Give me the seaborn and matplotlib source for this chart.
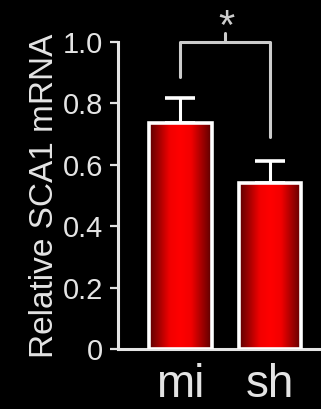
import numpy as np
import pandas as pd
import matplotlib
matplotlib.use("Agg")
import matplotlib.pyplot as plt
from matplotlib.colors import LinearSegmentedColormap
import seaborn as sns

# ── Datos ──
groups = ["mi", "sh"]
means = [0.735, 0.54]
sems = [0.083, 0.072]
yticks = [0, 0.2, 0.4, 0.6, 0.8, 1.0]
ytick_labels = ["0", "0.2", "0.4", "0.6", "0.8", "1.0"]
sig_label = "*"
bracket_top = 1.0
bracket_legs = [0.885, 0.69]

sns.set_theme(style="ticks")
plt.rcParams['font.family'] = ['Liberation Sans', 'DejaVu Sans']
fg = '#e4e4e4'
plt.rcParams.update({'text.color': fg, 'axes.labelcolor': fg,
                     'xtick.color': fg, 'ytick.color': fg,
                     'axes.edgecolor': fg})

df = pd.DataFrame({"group": groups, "value": means})

fig = plt.figure(figsize=(3.21, 4.09), dpi=100, facecolor='black')
ax = fig.add_axes([0.368, 0.1467, 0.632, 0.7506])
ax.set_facecolor('black')

sns.barplot(data=df, x="group", y="value", ax=ax, width=0.7, color='red',
            edgecolor='white', linewidth=2.6, errorbar=None, zorder=3)

# degradado horizontal dentro de cada barra
cmap = LinearSegmentedColormap.from_list(
    "rojo", [(0, "#5a0000"), (0.33, "#f20000"), (0.5, "#ff0000"),
             (0.67, "#f20000"), (1, "#5a0000")])
grad = np.linspace(0, 1, 256).reshape(1, -1)
for bar in ax.patches:
    x0, y0, w, h = bar.get_x(), bar.get_y(), bar.get_width(), bar.get_height()
    im = ax.imshow(grad, extent=[x0, x0 + w, y0, y0 + h], aspect='auto',
                   cmap=cmap, zorder=2.5, interpolation='bicubic')
    im.set_clip_path(bar)
    bar.set_facecolor('none')

ax.errorbar(x=[0, 1], y=means, yerr=[[0, 0], sems], fmt='none', ecolor='white',
            elinewidth=2.2, capsize=11, capthick=2.6, zorder=2)

# corchete de significancia
br = '#cccccc'
ax.plot([0, 0, 1, 1], [bracket_legs[0], bracket_top, bracket_top, bracket_legs[1]],
        color=br, lw=2.2, clip_on=False, zorder=4)
ax.plot([0.5, 0.5], [bracket_top, bracket_top + 0.03], color=br, lw=2.2,
        clip_on=False, zorder=4)
ax.text(0.52, bracket_top + 0.01, sig_label, ha='center', va='baseline', fontsize=30, color=br)

ax.set_xlim(-0.689, 1.567)
ax.set_ylim(0, 1.0)
ax.set_yticks(yticks)
ax.set_yticklabels(ytick_labels, fontsize=21)
ax.tick_params(axis='y', length=6, width=1.6, pad=5, direction='out')
ax.tick_params(axis='x', length=0, pad=10, labelsize=33)
ax.set_xlabel('')
ax.set_ylabel('Relative SCA1 mRNA', fontsize=24, labelpad=2)
ax.spines[['top', 'right']].set_visible(False)
for s in ['left', 'bottom']:
    ax.spines[s].set_linewidth(2.2)
    ax.spines[s].set_color(fg)

fig.savefig('out.png', dpi=100, facecolor='black')
